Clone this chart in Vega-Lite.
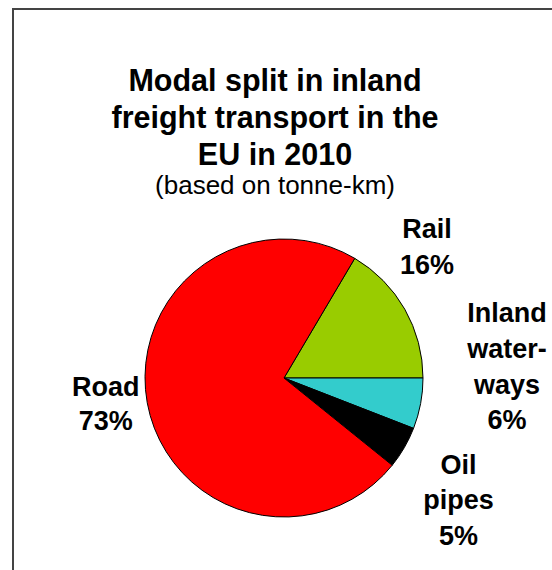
{
  "$schema": "https://vega.github.io/schema/vega-lite/v6.json",
  "autosize": {"type": "none"},
  "width": 542,
  "height": 738,
  "padding": {"left": 13, "top": 9, "right": -3, "bottom": -177},
  "background": "white",
  "view": {"stroke": null, "fill": "white"},
  "title": {
    "text": ["Modal split in inland", "freight transport in the", "EU in 2010"],
    "subtitle": "(based on tonne-km)",
    "font": "Liberation Sans",
    "fontSize": 30.5,
    "fontWeight": "bold",
    "color": "black",
    "lineHeight": 37,
    "subtitleFont": "Liberation Sans",
    "subtitleFontSize": 26,
    "subtitleColor": "black",
    "subtitlePadding": 2,
    "anchor": "middle",
    "dx": -9,
    "offset": -191
  },
  "data": {
    "values": [
      {"mode": "Rail", "share": 16.5, "ord": 1, "label": "Rail\n16%"},
      {"mode": "Inland waterways", "share": 5.9, "ord": 2, "label": "Inland\nwater-\nways\n6%"},
      {"mode": "Oil pipes", "share": 4.9, "ord": 3, "label": "Oil\npipes\n5%"},
      {"mode": "Road", "share": 72.7, "ord": 4, "label": "Road\n73%"}
    ]
  },
  "layer": [
    {
      "data": {"values": [{"edge": "left"}]},
      "mark": {"type": "rule", "color": "#444444", "strokeWidth": 2},
      "encoding": {"x": {"value": 0}, "y": {"value": 0}, "y2": {"value": 738}}
    },
    {
      "data": {"values": [{"edge": "top"}]},
      "mark": {"type": "rule", "color": "#444444", "strokeWidth": 2},
      "encoding": {"y": {"value": 0}, "x": {"value": -1}, "x2": {"value": 542}}
    },
    {
      "mark": {"type": "arc", "radius": 139, "stroke": "black", "strokeWidth": 1},
      "encoding": {
        "theta": {"field": "share", "type": "quantitative", "stack": true, "scale": {"range": [0.5341, 6.8173]}},
        "order": {"field": "ord", "type": "quantitative"},
        "color": {
          "field": "mode",
          "type": "nominal",
          "scale": {"domain": ["Rail", "Inland waterways", "Oil pipes", "Road"], "range": ["#99CC00", "#33CCCC", "#000000", "#FF0000"]},
          "legend": null
        }
      }
    },
    {
      "mark": {"type": "text", "radius": 175, "dx": -9, "dy": -61, "font": "Liberation Sans", "fontSize": 27, "fontWeight": "bold", "color": "black", "align": "center", "baseline": "middle", "lineHeight": 35.5, "lineBreak": "\n"},
      "encoding": {
        "theta": {"field": "share", "type": "quantitative", "stack": true},
        "order": {"field": "ord", "type": "quantitative"},
        "text": {"condition": {"test": "datum.mode === 'Rail'", "field": "label"}, "value": ""}
      }
    },
    {
      "mark": {"type": "text", "radius": 175, "dx": 51, "dy": -96, "font": "Liberation Sans", "fontSize": 27, "fontWeight": "bold", "color": "black", "align": "center", "baseline": "middle", "lineHeight": 35.7, "lineBreak": "\n"},
      "encoding": {
        "theta": {"field": "share", "type": "quantitative", "stack": true},
        "order": {"field": "ord", "type": "quantitative"},
        "text": {"condition": {"test": "datum.mode === 'Inland waterways'", "field": "label"}, "value": ""}
      }
    },
    {
      "mark": {"type": "text", "radius": 175, "dx": 23, "dy": 0, "font": "Liberation Sans", "fontSize": 27, "fontWeight": "bold", "color": "black", "align": "center", "baseline": "middle", "lineHeight": 35.7, "lineBreak": "\n"},
      "encoding": {
        "theta": {"field": "share", "type": "quantitative", "stack": true},
        "order": {"field": "ord", "type": "quantitative"},
        "text": {"condition": {"test": "datum.mode === 'Oil pipes'", "field": "label"}, "value": ""}
      }
    },
    {
      "mark": {"type": "text", "radius": 175, "dx": -6, "dy": -21, "font": "Liberation Sans", "fontSize": 27, "fontWeight": "bold", "color": "black", "align": "center", "baseline": "middle", "lineHeight": 34, "lineBreak": "\n"},
      "encoding": {
        "theta": {"field": "share", "type": "quantitative", "stack": true},
        "order": {"field": "ord", "type": "quantitative"},
        "text": {"condition": {"test": "datum.mode === 'Road'", "field": "label"}, "value": ""}
      }
    }
  ]
}
